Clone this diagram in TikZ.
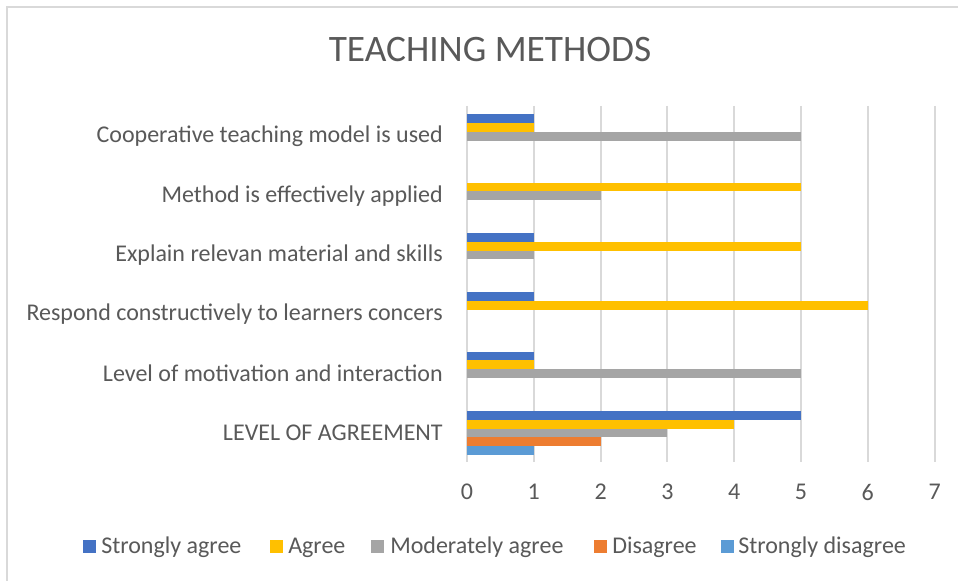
\documentclass[tikz,border=0pt]{standalone}
\usepackage{fontspec}
\setmainfont{Carlito}
\definecolor{txt}{HTML}{595959}
\definecolor{grid}{HTML}{D9D9D9}
\definecolor{cSA}{HTML}{4472C4}
\definecolor{cA}{HTML}{FFC000}
\definecolor{cMA}{HTML}{A5A5A5}
\definecolor{cD}{HTML}{ED7D31}
\definecolor{cSD}{HTML}{5B9BD5}
\newcommand{\chartbar}[4]{% cat, series, value, colour
  \fill[#4] (467,{136.5+#1*59.3-22+#2*8.8}) rectangle ({467+#3*66.8},{136.5+#1*59.3-22+(#2+1)*8.8});}
\begin{document}
\begin{tikzpicture}[x=0.75pt,y=-0.75pt,
  lbl/.style={text=txt,font=\fontsize{18}{21}\selectfont,inner sep=0pt},
  catlbl/.style={lbl,anchor=east},
  ticklbl/.style={lbl,anchor=center},
  leglbl/.style={lbl,anchor=west},
  gridline/.style={draw=grid,line width=1.5pt}]
\useasboundingbox (0,0) rectangle (958,581);
\fill[white] (0,0) rectangle (958,581);
% frame
\draw[grid,line width=1pt] (7,581) -- (7,7) -- (958,7);
% title
\node[lbl,font=\fontsize{28}{32}\selectfont] (title) at (490,49.5) {TEACHING METHODS};
% gridlines and ticks
\foreach \i in {0,...,7}{
  \draw[gridline] ({467+\i*66.8},106) -- ({467+\i*66.8},462);
  \node[ticklbl] (t\i) at ({467+\i*66.8},492) {\i};
}
% bars
\chartbar{0}{0}{1}{cSA}\chartbar{0}{1}{1}{cA}\chartbar{0}{2}{5}{cMA}
\chartbar{1}{1}{5}{cA}\chartbar{1}{2}{2}{cMA}
\chartbar{2}{0}{1}{cSA}\chartbar{2}{1}{5}{cA}\chartbar{2}{2}{1}{cMA}
\chartbar{3}{0}{1}{cSA}\chartbar{3}{1}{6}{cA}
\chartbar{4}{0}{1}{cSA}\chartbar{4}{1}{1}{cA}\chartbar{4}{2}{5}{cMA}
\chartbar{5}{0}{5}{cSA}\chartbar{5}{1}{4}{cA}\chartbar{5}{2}{3}{cMA}\chartbar{5}{3}{2}{cD}\chartbar{5}{4}{1}{cSD}
% category labels
\node[catlbl] (c0) at (443,136.5) {Cooperative teaching model is used};
\node[catlbl] (c1) at (443,195.8) {Method is effectively applied};
\node[catlbl] (c2) at (443,255.1) {Explain relevan material and skills};
\node[catlbl] (c3) at (443,314.4) {Respond constructively to learners concers};
\node[catlbl] (c4) at (443,373.7) {Level of motivation and interaction};
\node[catlbl] (c5) at (443,433.0) {LEVEL OF AGREEMENT};
% legend
\fill[cSA] (83,540) rectangle (96,553);
\node[leglbl] (l1) at (101,547.5) {Strongly agree};
\fill[cA] (270,540) rectangle (283,553);
\node[leglbl] (l2) at (288,547.5) {Agree};
\fill[cMA] (371,540) rectangle (384,553);
\node[leglbl] (l3) at (390,547.5) {Moderately agree};
\fill[cD] (594,540) rectangle (607,553);
\node[leglbl] (l4) at (612,547.5) {Disagree};
\fill[cSD] (721,540) rectangle (734,553);
\node[leglbl] (l5) at (738,547.5) {Strongly disagree};
\end{tikzpicture}
\end{document}
